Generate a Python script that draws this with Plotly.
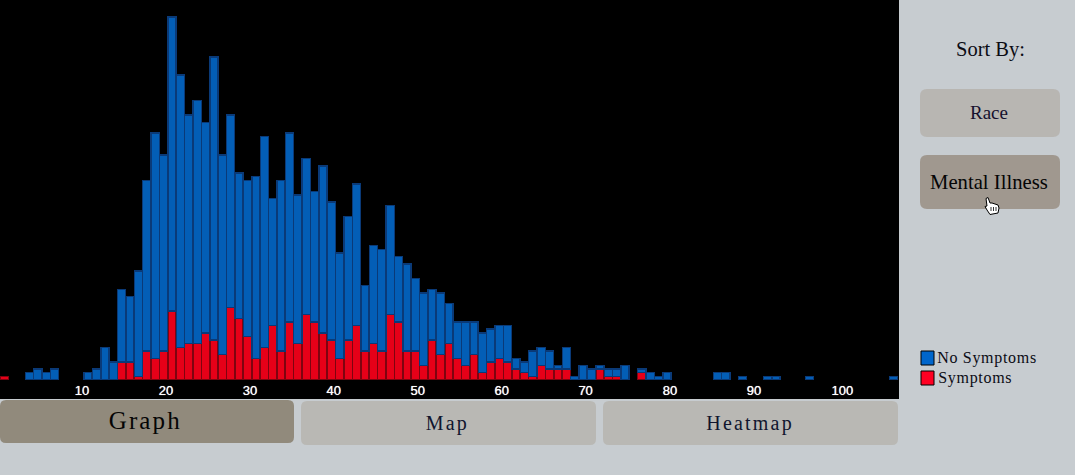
import plotly.graph_objects as go

W, H = 1075, 475
PLOT_W, PLOT_H = 899, 380

age_bins = list(range(107))
symptoms = [1,0,0,0,0,0,0,0,0,0,0,0,0,0,5,5,1,8,6,8,19,9,10,10,13,11,7,20,17,12,6,9,15,8,16,10,18,16,13,11,6,11,15,8,10,8,18,16,8,8,4,11,7,10,6,4,7,2,5,6,5,3,2,1,4,3,3,3,0,0,0,3,1,1,0,0,2,0,0,0,0,0,0,0,0,0,0,0,0,0,0,0,0,0,0,0,0,0,0,0,0,0,0,0,0,0,0]
no_symptoms = [0,0,0,2,3,2,3,0,0,0,2,3,9,5,20,18,29,47,62,54,81,75,63,67,58,78,55,53,40,43,50,58,35,47,52,41,43,36,46,38,29,34,39,18,27,28,30,18,24,20,20,14,17,11,10,12,9,11,9,9,10,3,3,7,5,5,1,6,1,4,3,1,2,2,4,0,1,2,1,2,0,0,0,0,0,2,2,0,1,0,0,1,1,0,0,0,1,0,0,0,0,0,0,0,0,0,1]
tick_positions = [9.77,19.78,29.8,39.78,49.8,59.8,69.8,79.85,89.87,100.4]
tick_labels = ["10","20","30","40","50","60","70","80","90","100"]

BG = "#c7ccd0"


def px(x):
    return x / PLOT_W


def py(y):
    return (PLOT_H - y) / PLOT_H


def rounded(x0, y0, x1, y1, r, fill):
    p = (f"M {px(x0+r)} {py(y0)} L {px(x1-r)} {py(y0)} Q {px(x1)} {py(y0)} {px(x1)} {py(y0+r)} "
         f"L {px(x1)} {py(y1-r)} Q {px(x1)} {py(y1)} {px(x1-r)} {py(y1)} "
         f"L {px(x0+r)} {py(y1)} Q {px(x0)} {py(y1)} {px(x0)} {py(y1-r)} "
         f"L {px(x0)} {py(y0+r)} Q {px(x0)} {py(y0)} {px(x0+r)} {py(y0)} Z")
    return dict(type="path", xref="paper", yref="paper", path=p, fillcolor=fill,
                line=dict(width=0), layer="below")


def rect(x0, y0, x1, y1, fill, line=None, lw=0):
    return dict(type="rect", xref="paper", yref="paper", x0=px(x0), x1=px(x1), y0=py(y1), y1=py(y0),
                fillcolor=fill, line=dict(color=line, width=lw), layer="below")


def label(text, x, y, size, color="#0b0b14", anchor="center"):
    return dict(text=text, xref="paper", yref="paper", x=px(x), y=py(y), showarrow=False,
                xanchor=anchor, yanchor="middle",
                font=dict(family="Liberation Serif", size=size, color=color))


def poly(points, fill, line_w=1):
    d = "M " + " L ".join(f"{px(a)} {py(b)}" for a, b in points)
    if fill:
        d += " Z"
    return dict(type="path", xref="paper", yref="paper", path=d,
                fillcolor=fill if fill else "rgba(0,0,0,0)",
                line=dict(color="#000000", width=line_w), layer="above")


fig = go.Figure()
fig.add_bar(x=[a + 0.5 for a in age_bins], y=symptoms, name="Symptoms",
            marker=dict(color="#e60018", line=dict(color="#7e0410", width=[1.4 if v else 0 for v in symptoms])))
fig.add_bar(x=[a + 0.5 for a in age_bins], y=no_symptoms, name="No Symptoms",
            marker=dict(color="#035eb6", line=dict(color="#0a3a78", width=[1.4 if v else 0 for v in no_symptoms])))

shapes = [
    rect(0, 380, 899, 399, "#000000"),
    rounded(0, 400, 294, 443, 6, "#918a7c"),
    rounded(301, 401, 596, 445, 6, "#b9b8b4"),
    rounded(603, 401, 898, 445, 6, "#b9b8b4"),
    rounded(920, 89, 1060, 137, 7, "#b8b6b2"),
    rounded(920, 155, 1060, 209, 7, "#a0988f"),
    rect(921, 351, 934, 365, "#0066cc", "#000000", 1),
    rect(921, 371, 934, 385, "#ff0022", "#000000", 1),
    # hand cursor over the active sort button
    poly([(986, 198.5), (988, 197.5), (990, 203), (992, 203), (995, 204), (998, 205), (999, 208),
          (998, 213), (990, 214.5), (987, 210), (985, 206.5), (987, 206)], "#ffffff"),
    poly([(991, 207), (991, 211)], None, 0.8),
    poly([(993.5, 207), (993.5, 211)], None, 0.8),
    poly([(996, 207), (996, 211)], None, 0.8),
]

annotations = [
    label("Sort By:", 990, 50, 20.5),
    label("Race", 989.5, 112.5, 19, "#15102e"),
    label("Mental Illness", 989.5, 182, 20.7, "#050505"),
    label("Graph", 145.5, 420.5, 25, "#050505"),
    label("Map", 447.5, 423, 20, "#10152e"),
    label("Heatmap", 749.5, 423, 20, "#10152e"),
    label("No Symptoms", 938.5, 358, 16, "#0b0b14", "left"),
    label("Symptoms", 938.5, 378, 16, "#0b0b14", "left"),
]

fig.update_layout(
    width=W, height=H, autosize=False,
    margin=dict(l=0, r=W - PLOT_W, t=0, b=H - PLOT_H, pad=0, autoexpand=False),
    paper_bgcolor=BG, plot_bgcolor="#000000",
    barmode="stack", bargap=0.03, showlegend=False,
    shapes=shapes, annotations=annotations,
    xaxis=dict(range=[0, PLOT_W / 8.39], tickmode="array", tickvals=tick_positions, ticktext=tick_labels,
               ticks="", showgrid=False, zeroline=False, showline=False, ticklabelstandoff=1,
               tickfont=dict(family="Liberation Sans", size=13, color="#ffffff",
                             shadow="0 0 0.7px #ffffff")),
    yaxis=dict(range=[0, PLOT_H / 3.63], visible=False, showgrid=False, zeroline=False),
)

post = """
document.documentElement.style.overflow='hidden';
document.body.style.margin='0';
document.body.style.overflow='hidden';
document.querySelectorAll('.annotation-text').forEach(function(t){
  var s=t.textContent;
  if(s==='Graph'){t.style.letterSpacing='2.1px';}
  if(s==='Map'||s==='Heatmap'){t.style.letterSpacing='2.2px';}
  if(s==='No Symptoms'||s==='Symptoms'){t.style.letterSpacing='0.7px';}
});
"""
fig.write_html("out.html", post_script=post, config=dict(displayModeBar=False))
